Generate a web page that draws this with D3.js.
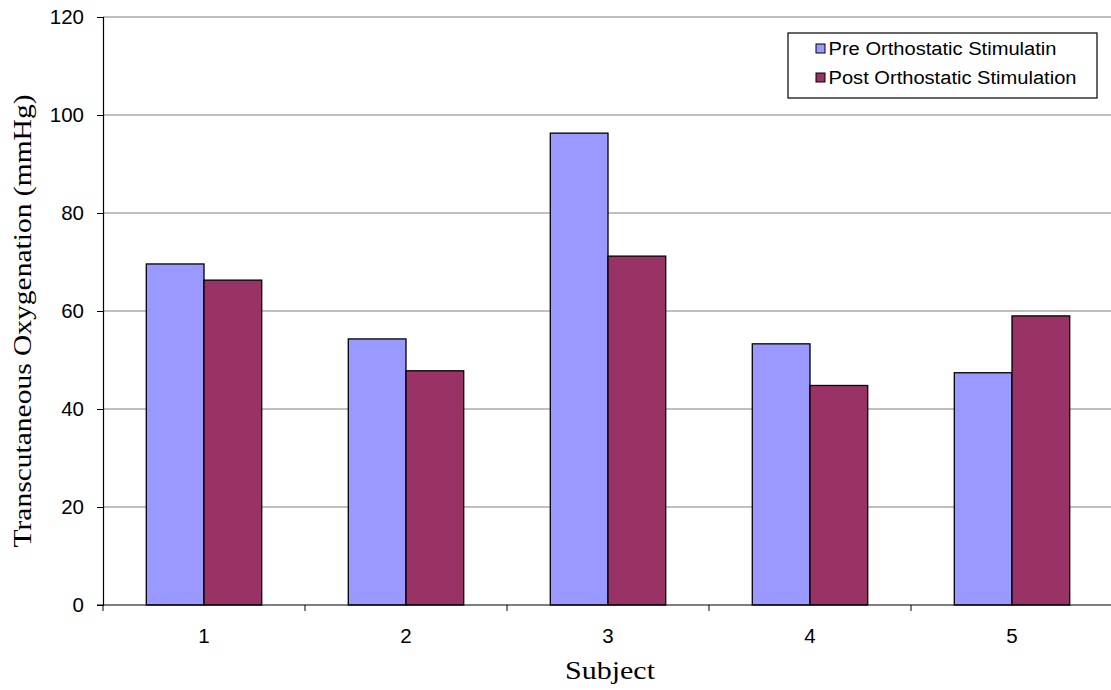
<!DOCTYPE html>
<html>
<head>
<meta charset="utf-8">
<script src="https://cdn.jsdelivr.net/npm/d3@7"></script>
<style>
  html, body { margin: 0; padding: 0; background: #fff; }
  svg { display: block; }
</style>
</head>
<body>
<svg id="chart" width="1111" height="690"></svg>
<script>
// Transcutaneous oxygenation per subject, before and after orthostatic stimulation
const subjects = ["1", "2", "3", "4", "5"];
const seriesNames = ["Pre Orthostatic Stimulatin", "Post Orthostatic Stimulation"];
const preValues = [69.6, 54.3, 96.3, 53.3, 47.4];
const postValues = [66.3, 47.8, 71.2, 44.8, 59.0];
const yTicks = [0, 20, 40, 60, 80, 100, 120];
const seriesColors = ["#9999FF", "#993366"];

const svg = d3.select("#chart");
const margin = { left: 103, top: 17, right: -2, bottom: 85 };
const W = 1111, H = 690;
const x0 = margin.left, x1 = W - margin.right;
const yTop = margin.top, yBot = H - margin.bottom;

const x = d3.scaleBand().domain(subjects).range([x0, x1]);
const y = d3.scaleLinear().domain([0, 120]).range([yBot, yTop]);

// bar width follows a 150% gap between clusters
const barW = x.bandwidth() / 3.5;
const xs = d3.scaleBand().domain([0, 1]).range([0, 2 * barW]);

const sans = "Liberation Sans, Arial, sans-serif";
const serif = "Liberation Serif, Times New Roman, serif";

// horizontal gridlines
svg.append("g")
  .selectAll("line")
  .data(yTicks.filter(t => t > 0))
  .join("line")
  .attr("x1", x0).attr("x2", x1)
  .attr("y1", d => y(d)).attr("y2", d => y(d))
  .attr("stroke", "#808080").attr("stroke-width", 1.2);

// bars
const rows = subjects.map((s, i) => ({ s, vals: [preValues[i], postValues[i]] }));
const groups = svg.append("g").selectAll("g")
  .data(rows).join("g")
  .attr("transform", d => `translate(${x(d.s) + (x.bandwidth() - 2 * barW) / 2},0)`);
groups.selectAll("rect")
  .data(d => d.vals.map((v, k) => ({ v, k })))
  .join("rect")
  .attr("x", d => xs(d.k))
  .attr("width", barW)
  .attr("y", d => y(d.v))
  .attr("height", d => y(0) - y(d.v))
  .attr("fill", d => seriesColors[d.k])
  .attr("stroke", "#000").attr("stroke-width", 1.3);

// y axis
const yAxis = d3.axisLeft(y).tickValues(yTicks).tickSize(6).tickPadding(13).tickFormat(d3.format("d"));
const gy = svg.append("g").attr("transform", `translate(${x0},0)`).call(yAxis);
gy.select(".domain").attr("stroke", "#000").attr("stroke-width", 1.2);
gy.selectAll(".tick line").attr("stroke", "#000");
gy.selectAll("text").attr("font-family", sans).attr("font-size", 20.5).attr("fill", "#000");

// x axis: ticks sit on category boundaries
const gx = svg.append("g").attr("transform", `translate(0,${yBot})`);
gx.append("line").attr("x1", x0 - 6).attr("x2", x1).attr("y1", 0).attr("y2", 0)
  .attr("stroke", "#000").attr("stroke-width", 1.2);
gx.selectAll("line.tk")
  .data(subjects.map(s => x(s)).concat([x1]))
  .join("line").attr("class", "tk")
  .attr("x1", d => d).attr("x2", d => d).attr("y1", 0).attr("y2", 6)
  .attr("stroke", "#000");
gx.selectAll("text")
  .data(subjects).join("text")
  .attr("x", d => x(d) + x.bandwidth() / 2)
  .attr("y", 38)
  .attr("text-anchor", "middle")
  .attr("font-family", sans).attr("font-size", 20.5)
  .text(d => d);

// axis titles
svg.append("text")
  .attr("x", 610).attr("y", 679)
  .attr("text-anchor", "middle")
  .attr("font-family", serif).attr("font-size", 26)
  .attr("textLength", 90).attr("lengthAdjust", "spacingAndGlyphs")
  .text("Subject");
svg.append("text")
  .attr("transform", "translate(31,321) rotate(-90)")
  .attr("text-anchor", "middle")
  .attr("font-family", serif).attr("font-size", 26)
  .attr("textLength", 453).attr("lengthAdjust", "spacingAndGlyphs")
  .text("Transcutaneous Oxygenation (mmHg)");

// legend
const legendWidths = [228, 248];
const lg = svg.append("g").attr("transform", "translate(788,33)");
lg.append("rect").attr("width", 309).attr("height", 65)
  .attr("fill", "#fff").attr("stroke", "#000").attr("stroke-width", 1.2);
const items = lg.selectAll("g.item").data(seriesNames).join("g").attr("class", "item")
  .attr("transform", (d, i) => `translate(28,${15.5 + i * 29})`);
items.append("rect").attr("width", 9).attr("height", 9).attr("y", -4.5)
  .attr("fill", (d, i) => seriesColors[i]).attr("stroke", "#000").attr("stroke-width", 1);
items.append("text").attr("x", 12.5).attr("y", 6.5)
  .attr("font-family", sans).attr("font-size", 18)
  .attr("textLength", (d, i) => legendWidths[i]).attr("lengthAdjust", "spacingAndGlyphs")
  .text(d => d);
</script>
</body>
</html>
